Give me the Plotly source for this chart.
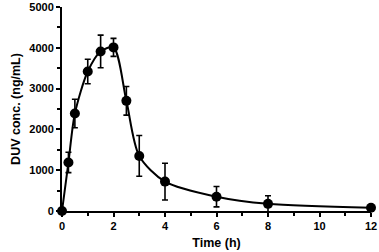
import plotly.graph_objects as go

time_h = [0, 0.25, 0.5, 1, 1.5, 2, 2.5, 3, 4, 6, 8, 12]
conc = [0, 1190, 2390, 3420, 3910, 4010, 2700, 1350, 720, 350, 175, 80]
err = [0, 250, 350, 300, 400, 220, 350, 500, 450, 250, 200, 30]
x_ticks = [0, 2, 4, 6, 8, 10, 12]
y_ticks = [0, 1000, 2000, 3000, 4000, 5000]

fig = go.Figure()
fig.add_trace(go.Scatter(
    x=time_h, y=conc, mode="lines+markers",
    line=dict(color="black", width=2, shape="spline", smoothing=0.8),
    marker=dict(color="black", size=10),
    error_y=dict(type="data", array=err, visible=True, color="black", thickness=1.6, width=3),
    cliponaxis=False,
))
font_b = dict(family="Liberation Sans, Arial", size=11, color="black")
fig.update_layout(
    width=379, height=252,
    margin=dict(l=62, r=8, t=7, b=41),
    paper_bgcolor="white", plot_bgcolor="white",
    showlegend=False,
    font=font_b,
)
fig.update_xaxes(
    range=[0, 12], tickvals=x_ticks, automargin=False,
    ticktext=["<b>%d</b>" % v for v in x_ticks],
    ticks="outside", ticklen=4, tickwidth=1.5, tickcolor="black",
    minor=dict(dtick=1, ticks="outside", ticklen=3, tickcolor="black", tickwidth=1.5),
    showline=True, linecolor="black", linewidth=2, showgrid=False, zeroline=False,
    title=dict(text="<b>Time (h)</b>", font=dict(size=12.5), standoff=7),
)
fig.update_yaxes(
    range=[0, 5000], tickvals=y_ticks, automargin=False,
    ticktext=["<b>%d</b>" % v for v in y_ticks],
    ticks="outside", ticklen=4, tickwidth=1.5, tickcolor="black",
    minor=dict(dtick=500, ticks="outside", ticklen=3, tickcolor="black", tickwidth=1.5),
    showline=True, linecolor="black", linewidth=2, showgrid=False, zeroline=False,
    title=dict(text="<b>DUV conc. (ng/mL)</b>", font=dict(size=12.5), standoff=6),
)
fig.write_html("out.html", config={"displayModeBar": False},
               post_script="document.body.style.margin='0';")
